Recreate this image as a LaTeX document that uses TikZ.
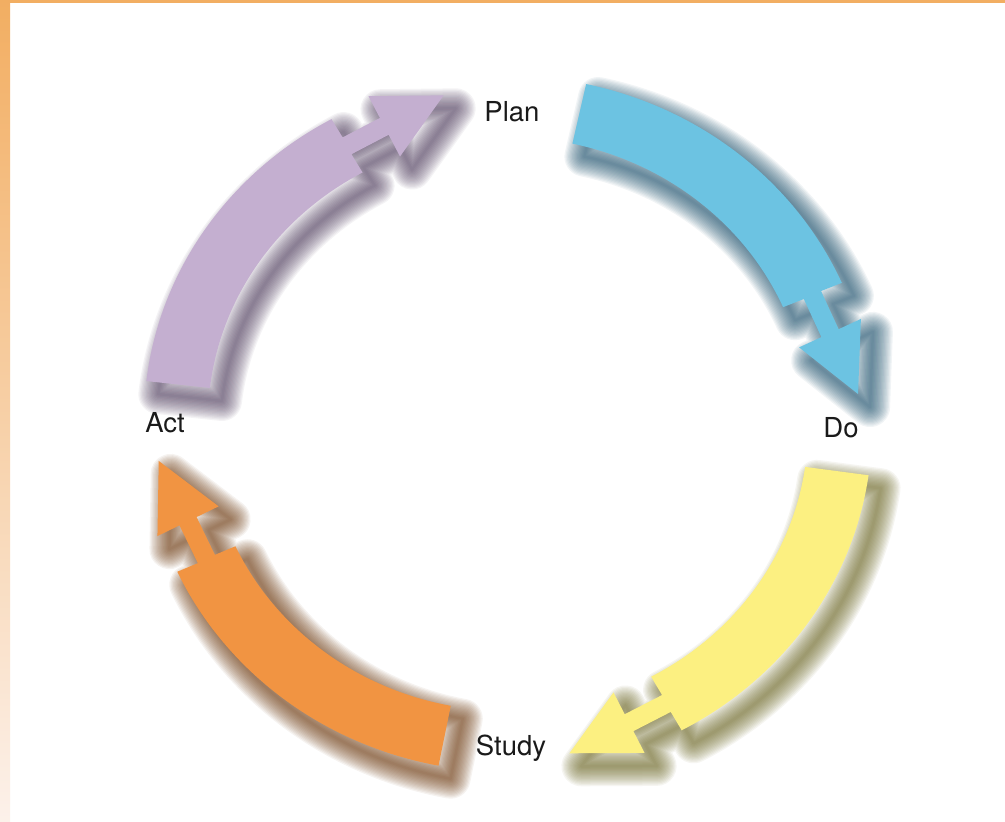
\documentclass[tikz,border=0pt]{standalone}
\usepackage{fontspec}
\setmainfont{TeX Gyre Heros}
\usetikzlibrary{calc}
\definecolor{pdcapurple}{HTML}{C4AFD0}
\definecolor{pdcablue}{HTML}{6CC3E2}
\definecolor{pdcayellow}{HTML}{FCF081}
\definecolor{pdcaorange}{HTML}{F19442}
\definecolor{shpurple}{HTML}{4E3A5C}
\definecolor{shblue}{HTML}{174E6A}
\definecolor{shyellow}{HTML}{6A6520}
\definecolor{shorange}{HTML}{6A3508}
\definecolor{barorange}{HTML}{F2AE62}
\definecolor{barpale}{HTML}{FCF1EA}
\definecolor{labeltext}{HTML}{1A1A1A}
\tikzset{
  pdcalabel/.style={font=\fontsize{27.5}{30}\selectfont, text=labeltext, anchor=base, inner sep=0pt},
  shadowlayer/.style={line join=round, draw opacity=0.06},
}
% #1 name, #2 cx, #3 cy, #4 start angle, #5 end angle, #6 fill colour, #7 shadow colour
\newcommand{\pdcaarrow}[7]{%
  \pgfmathsetmacro{\pct}{cos(#5)}%
  \pgfmathsetmacro{\pst}{sin(#5)}%
  \pgfmathsetmacro{\pdx}{332*\pst/100}%
  \pgfmathsetmacro{\pdy}{-313.5*\pct/100}%
  \pgfmathsetmacro{\pdl}{sqrt(\pdx*\pdx+\pdy*\pdy)}%
  \pgfmathsetmacro{\pux}{\pdx/\pdl}%
  \pgfmathsetmacro{\puy}{\pdy/\pdl}%
  \pgfmathsetmacro{\pnx}{-\puy}%
  \pgfmathsetmacro{\pny}{\pux}%
  \coordinate (#1-C) at (#2,#3);
  \coordinate (#1-O1) at ($(#1-C)+(#4:364pt and 344pt)$);
  \coordinate (#1-O2) at ($(#1-C)+(#5:364pt and 344pt)$);
  \coordinate (#1-I2) at ($(#1-C)+(#5:300pt and 283pt)$);
  \coordinate (#1-M) at ($(#1-O2)!0.5!(#1-I2)$);
  \coordinate (#1-S1) at ($(#1-M)+9.5*(\pnx,\pny)$);
  \coordinate (#1-S2) at ($(#1-M)+42*(\pux,\puy)+9.5*(\pnx,\pny)$);
  \coordinate (#1-H1) at ($(#1-M)+42*(\pux,\puy)+34*(\pnx,\pny)$);
  \coordinate (#1-T) at ($(#1-M)+109*(\pux,\puy)$);
  \coordinate (#1-H2) at ($(#1-M)+42*(\pux,\puy)-34*(\pnx,\pny)$);
  \coordinate (#1-S3) at ($(#1-M)+42*(\pux,\puy)-9.5*(\pnx,\pny)$);
  \coordinate (#1-S4) at ($(#1-M)-9.5*(\pnx,\pny)$);
  \def\pdcapath{(#1-O1) arc[start angle=#4, end angle=#5, x radius=364pt, y radius=344pt]
    -- (#1-S1) -- (#1-S2) -- (#1-H1) -- (#1-T) -- (#1-H2) -- (#1-S3) -- (#1-S4) -- (#1-I2)
    arc[start angle=#5, end angle=#4, x radius=300pt, y radius=283pt] -- cycle}%
  \begin{scope}[transform canvas={shift={(12pt,-13pt)}}]
    \foreach \k in {1,...,16}{
      \path[shadowlayer, draw=#7, line width=\k*2.5pt] \pdcapath;
    }
  \end{scope}
  \fill[#6] \pdcapath;
}
\begin{document}
\begin{tikzpicture}[x=1pt,y=1pt]
  \useasboundingbox (0,0) rectangle (1005,-822);
  \fill[white] (0,0) rectangle (1005,-822);
  \shade[top color=barorange, bottom color=barpale] (0,0) rectangle (10,-822);
  \fill[barorange] (0,0) rectangle (1005,-3);

  \pdcaarrow{act}{508}{-420}{173.5}{119}{pdcapurple}{shpurple}
  \pdcaarrow{plan}{508}{-420}{77.6}{23.5}{pdcablue}{shblue}
  \pdcaarrow{do}{508}{-428}{-7.9}{-61.5}{pdcayellow}{shyellow}
  \pdcaarrow{study}{508}{-428}{259}{204.7}{pdcaorange}{shorange}

  \node[pdcalabel] (lplan) at (512,-121) {Plan};
  \node[pdcalabel] (ldo) at (841,-437) {Do};
  \node[pdcalabel] (lstudy) at (511,-755) {Study};
  \node[pdcalabel] (lact) at (165,-432) {Act};
\end{tikzpicture}
\end{document}
